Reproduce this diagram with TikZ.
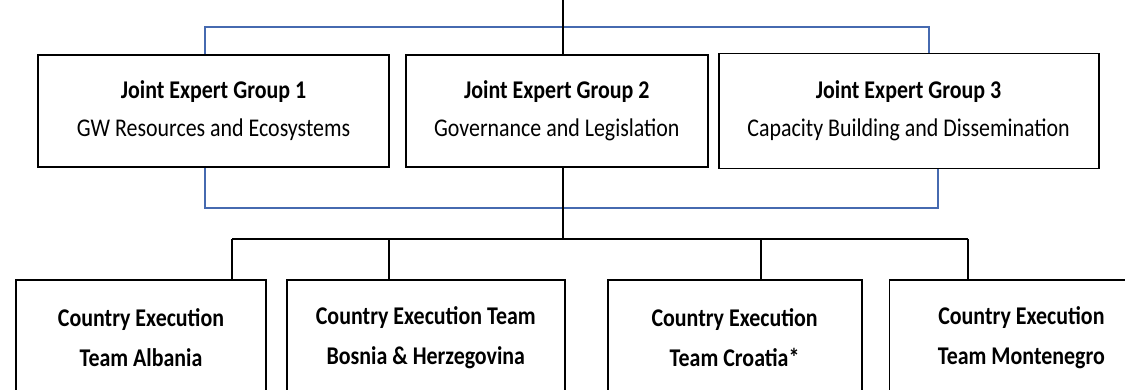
\documentclass[tikz,border=0pt]{standalone}
\usepackage{fontspec}
\setmainfont{Carlito}
\newfontfamily\boxfont{Carlito}[FakeStretch=0.86]
\usetikzlibrary{positioning}
\definecolor{linkblue}{RGB}{70,106,176}
\begin{document}
\begin{tikzpicture}
                [x=1pt,y=-1pt,
                grp/.style={rectangle,draw,line width=1.8pt,minimum height=112pt,inner sep=0pt,
                            align=center,font=\boxfont\fontsize{25.5}{38}\selectfont},
                team/.style={grp,minimum height=116pt,font=\boxfont\fontsize{25.5}{40}\selectfont\bfseries},
                bl/.style={draw=linkblue,line width=1.5pt},
                bk/.style={draw=black,line width=1.5pt}]
                \useasboundingbox (0,0) rectangle (1125,390);
                \node[grp,minimum width=351pt] (g1) at (213.5,111) {\textbf{Joint Expert Group 1}\\GW Resources and Ecosystems};
                \node[grp,minimum width=302pt,node distance=15pt] (g2)[right=of g1]{\textbf{Joint Expert Group 2}\\Governance and Legislation};
                \node[grp,minimum width=380pt,minimum height=115pt,node distance=9pt] (g3)[right=of g2]{\textbf{Joint Expert Group 3}\\Capacity Building and Dissemination};
                \node[team,minimum width=250pt] (ta) at (141,338) {Country Execution\\Team Albania};
                \node[team,minimum width=278pt,node distance=19pt] (tb)[right=of ta]{Country Execution Team\\Bosnia \& Herzegovina};
                \node[team,minimum width=254pt,node distance=41pt] (tc)[right=of tb]{Country Execution\\Team Croatia*};
                \node[team,minimum width=264pt,node distance=26pt] (td)[right=of tc]{Country Execution\\Team Montenegro};
                \coordinate (top) at (563,0);
                \coordinate (bt1) at (205,27);
                \coordinate (bt3) at (929,27);
                \coordinate (bb1) at (205,208);
                \coordinate (bb3) at (938,208);
                \coordinate (bus) at (563,239);
                \coordinate (da) at (232,239);
                \coordinate (db) at (389,239);
                \coordinate (dc) at (761,239);
                \coordinate (dd) at (968,239);
                \path[bl] (bt1 |- g1.north) -- (bt1) -- (bt3) -- (bt3 |- g3.north)
                          (bb1 |- g1.south) -- (bb1) -- (bb3) -- (bb3 |- g3.south);
                \path[bk] (top) edge (top |- g2.north)
                          (top |- g2.south) edge (bus)
                          (da) edge (dd)
                          (da) edge (da |- ta.north)
                          (db) edge (db |- tb.north)
                          (dc) edge (dc |- tc.north)
                          (dd) edge (dd |- td.north);
            \end{tikzpicture}
\end{document}
